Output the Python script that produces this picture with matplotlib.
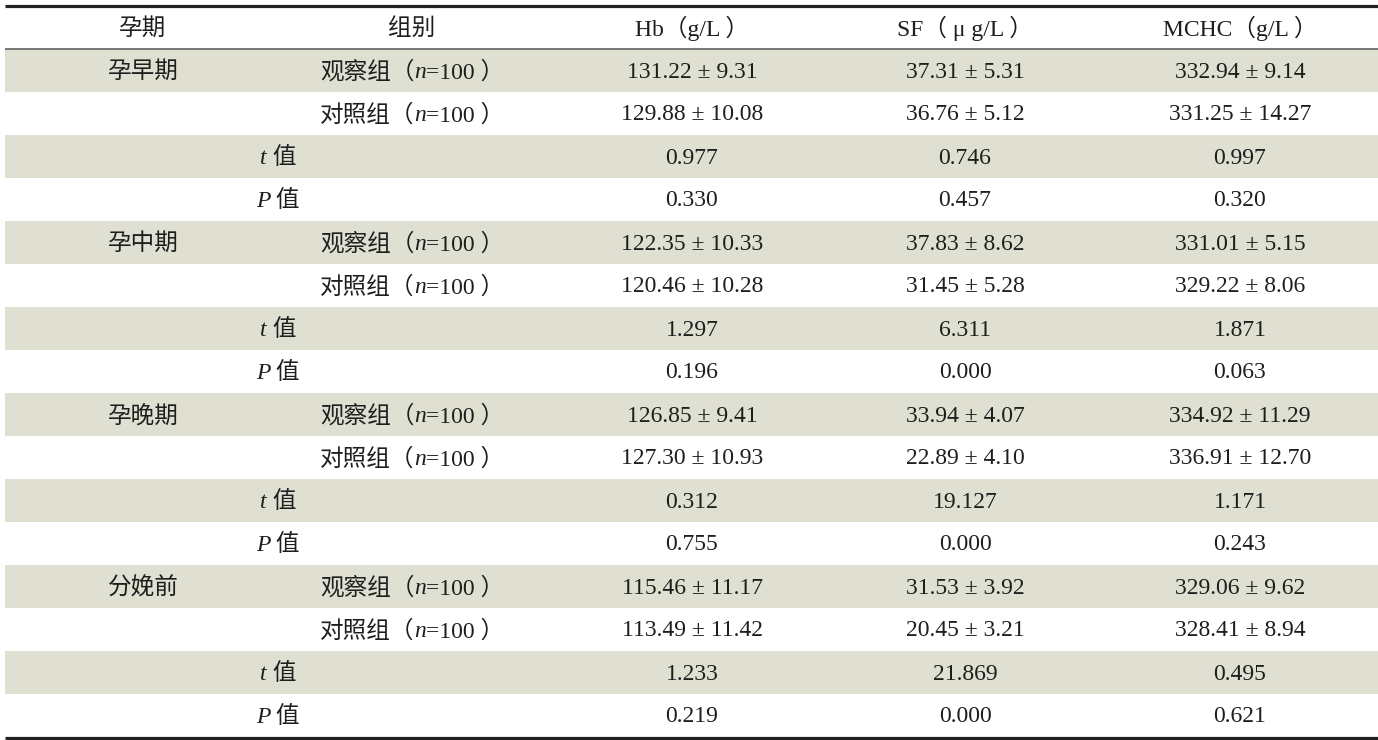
import matplotlib
matplotlib.use("Agg")
import matplotlib.pyplot as plt
from matplotlib.offsetbox import TextArea, HPacker, AnnotationBbox

plt.rcParams['font.family'] = ['Liberation Serif', 'Noto Sans CJK SC']

# 表头和数据
headers = ["孕期", "组别", "Hb（g/L ）", "SF（ μ g/L ）", "MCHC（g/L ）"]
periods = ["孕早期", "孕中期", "孕晚期", "分娩前"]
groups = ["观察组", "对照组"]
group_n = 100

hb = [["131.22 ± 9.31", "129.88 ± 10.08", "0.977", "0.330"],
      ["122.35 ± 10.33", "120.46 ± 10.28", "1.297", "0.196"],
      ["126.85 ± 9.41", "127.30 ± 10.93", "0.312", "0.755"],
      ["115.46 ± 11.17", "113.49 ± 11.42", "1.233", "0.219"]]
sf = [["37.31 ± 5.31", "36.76 ± 5.12", "0.746", "0.457"],
      ["37.83 ± 8.62", "31.45 ± 5.28", "6.311", "0.000"],
      ["33.94 ± 4.07", "22.89 ± 4.10", "19.127", "0.000"],
      ["31.53 ± 3.92", "20.45 ± 3.21", "21.869", "0.000"]]
mchc = [["332.94 ± 9.14", "331.25 ± 14.27", "0.997", "0.320"],
        ["331.01 ± 5.15", "329.22 ± 8.06", "1.871", "0.063"],
        ["334.92 ± 11.29", "336.91 ± 12.70", "1.171", "0.243"],
        ["329.06 ± 9.62", "328.41 ± 8.94", "0.495", "0.621"]]

W, H = 1378, 740
fig = plt.figure(figsize=(W / 100, H / 100), dpi=100)
ax = fig.add_axes([0, 0, 1, 1])
ax.set_xlim(0, W)
ax.set_ylim(H, 0)
ax.axis("off")

FS = 17
shade = "#dfe0d1"
left = 5
col_x = [143, 412, 692, 965, 1240]
stat_x = 278
top_y = 5.5
head_y = 48.5
row0 = 49
row_h = (737 - 49) / 16
dy = 1.5  # 文字略往下


def cell(x, y, parts):
    # parts: [(文本, 是否斜体), ...]
    boxes = []
    for s, it in parts:
        if it:
            tp = dict(fontsize=FS, family='Liberation Serif', style='italic', color='#1e1e1e')
        else:
            tp = dict(fontsize=FS, color='#1e1e1e')
        boxes.append(TextArea(s, textprops=tp))
    pack = HPacker(children=boxes, align="baseline", pad=0, sep=0)
    ab = AnnotationBbox(pack, (x, y + dy), xycoords='data', frameon=False,
                        box_alignment=(0.5, 0.5), pad=0)
    ax.add_artist(ab)


# 背景条纹
for i in range(16):
    if i % 2 == 0:
        ax.fill_between([left, W], row0 + i * row_h, row0 + (i + 1) * row_h,
                        color=shade, lw=0, zorder=0)

# 线
ax.plot([left, W], [top_y, top_y], color='#222222', lw=2.3, solid_capstyle='butt')
ax.plot([left, W], [head_y, head_y], color='#555555', lw=1.1, solid_capstyle='butt')
ax.plot([left, W], [737.5, 737.5], color='#222222', lw=2.3, solid_capstyle='butt')

# 表头
for x, h in zip(col_x, headers):
    cell(x, (top_y + head_y) / 2, [(h, False)])

# 表体
for p, name in enumerate(periods):
    for k in range(4):
        r = p * 4 + k
        yc = row0 + (r + 0.5) * row_h
        if k == 0:
            cell(col_x[0], yc, [(name, False)])
        if k < 2:
            cell(col_x[1], yc, [(groups[k] + "（", False), ("n", True), ("=%d ）" % group_n, False)])
        elif k == 2:
            cell(stat_x, yc, [("t", True), (" 值", False)])
        else:
            cell(stat_x, yc, [("P", True), (" 值", False)])
        cell(col_x[2], yc, [(hb[p][k], False)])
        cell(col_x[3], yc, [(sf[p][k], False)])
        cell(col_x[4], yc, [(mchc[p][k], False)])

fig.savefig("out.png", dpi=100)
